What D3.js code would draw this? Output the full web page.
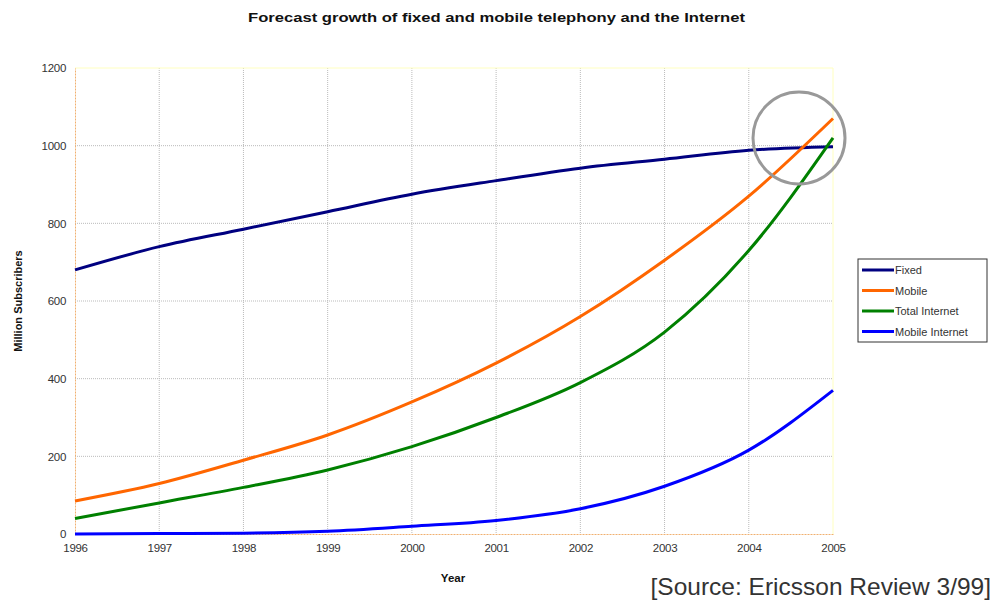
<!DOCTYPE html>
<html>
<head>
<meta charset="utf-8">
<script src="https://cdn.jsdelivr.net/npm/d3@7.9.0/dist/d3.min.js"></script>
<style>
  body { margin: 0; background: #fff; }
  svg { font-family: "Liberation Sans", Arial, sans-serif; }
</style>
</head>
<body>
<svg id="chart" width="994" height="601"></svg>
<script>
const years = [1996, 1997, 1998, 1999, 2000, 2001, 2002, 2003, 2004, 2005];
const fixed = [680, 740, 785, 830, 875, 910, 942, 965, 988, 997];
const mobile = [85, 130, 190, 255, 340, 440, 560, 705, 870, 1070];
const totalInternet = [40, 80, 120, 165, 225, 300, 390, 520, 730, 1020];
const mobileInternet = [0, 1, 2, 7, 20, 35, 65, 123, 216, 370];
const yTicks = [0, 200, 400, 600, 800, 1000, 1200];

const series = [
  { name: 'Fixed', values: fixed, color: '#000080' },
  { name: 'Mobile', values: mobile, color: '#ff6600' },
  { name: 'Total Internet', values: totalInternet, color: '#008000' },
  { name: 'Mobile Internet', values: mobileInternet, color: '#0000ff' }
];

const svg = d3.select('#chart');
const m = { left: 75, right: 833, top: 68, bottom: 534 };

const x = d3.scaleLinear().domain([1996, 2005]).range([m.left, m.right]);
const y = d3.scaleLinear().domain([0, 1200]).range([m.bottom, m.top]);

// gridlines
svg.append('g').selectAll('line').data(years.slice(1, -1)).join('line')
  .attr('x1', d => x(d)).attr('x2', d => x(d))
  .attr('y1', m.top).attr('y2', m.bottom)
  .attr('stroke', '#bbb').attr('stroke-dasharray', '1,1');
svg.append('g').selectAll('line').data(yTicks.slice(1, -1)).join('line')
  .attr('x1', m.left).attr('x2', m.right)
  .attr('y1', d => y(d)).attr('y2', d => y(d))
  .attr('stroke', '#bbb').attr('stroke-dasharray', '1,1');

// frame
svg.append('line').attr('x1', m.left).attr('x2', m.right).attr('y1', m.top).attr('y2', m.top)
  .attr('stroke', '#ffffc0');
svg.append('line').attr('x1', m.right).attr('x2', m.right).attr('y1', m.top).attr('y2', m.bottom)
  .attr('stroke', '#ffffc0');

// axes
const xAxis = svg.append('g').attr('transform', `translate(0,${m.bottom})`)
  .call(d3.axisBottom(x).tickValues(years).tickFormat(d3.format('d')).tickSize(0).tickPadding(10));
const yAxis = svg.append('g').attr('transform', `translate(${m.left},0)`)
  .call(d3.axisLeft(y).tickValues(yTicks).tickFormat(d3.format('d')).tickSize(0).tickPadding(9));
[xAxis, yAxis].forEach(a => {
  a.select('.domain').attr('stroke', '#f0b070').attr('stroke-dasharray', '2,1');
  a.selectAll('text').attr('font-size', 11.5).attr('fill', '#333')
    .attr('letter-spacing', -0.3);
});

// lines
const line = d3.line()
  .x((d, i) => x(years[i]))
  .y(d => y(d))
  .curve(d3.curveMonotoneX);

svg.append('g').selectAll('path').data(series).join('path')
  .attr('d', d => line(d.values))
  .attr('fill', 'none')
  .attr('stroke', d => d.color)
  .attr('stroke-width', 3);

// highlight circle
svg.append('circle').attr('cx', 799).attr('cy', 138).attr('r', 46)
  .attr('fill', 'none').attr('stroke', '#999').attr('stroke-width', 3);

// titles
svg.append('text').attr('x', 248).attr('y', 22)
  .attr('font-size', 13).attr('font-weight', 'bold').attr('fill', '#111')
  .attr('textLength', 497).attr('lengthAdjust', 'spacingAndGlyphs')
  .text('Forecast growth of fixed and mobile telephony and the Internet');
svg.append('text').attr('x', 453).attr('y', 582).attr('text-anchor', 'middle')
  .attr('font-size', 11.5).attr('font-weight', 'bold').attr('fill', '#111')
  .text('Year');
svg.append('text').attr('transform', 'translate(22,301) rotate(-90)').attr('text-anchor', 'middle')
  .attr('font-size', 11).attr('font-weight', 'bold').attr('fill', '#111')
  .text('Million Subscribers');
svg.append('text').attr('x', 991).attr('y', 595).attr('text-anchor', 'end')
  .attr('font-size', 24.5).attr('fill', '#333')
  .text('[Source: Ericsson Review 3/99]');

// legend
const lg = svg.append('g').attr('transform', 'translate(858,259)');
lg.append('rect').attr('width', 129).attr('height', 83)
  .attr('fill', '#fff').attr('stroke', '#333').attr('stroke-width', 1);
const item = lg.selectAll('g.item').data(series).join('g').attr('class', 'item')
  .attr('transform', (d, i) => `translate(0,${11 + i * 20.5})`);
item.append('line').attr('x1', 4).attr('x2', 36)
  .attr('stroke', d => d.color).attr('stroke-width', 3);
item.append('text').attr('x', 37).attr('y', 4).attr('font-size', 11).attr('fill', '#333')
  .text(d => d.name);
</script>
</body>
</html>
